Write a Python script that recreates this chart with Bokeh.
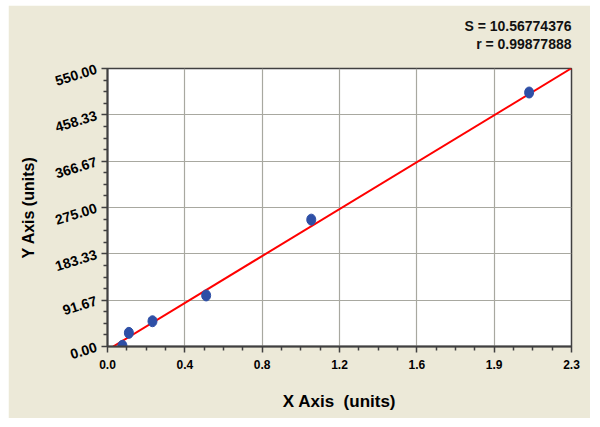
import numpy as np
from bokeh.plotting import figure
from bokeh.models import FixedTicker, Range1d, Title
from bokeh.embed import file_html
from bokeh.resources import INLINE

# data
x_pts = [0.074, 0.106, 0.223, 0.489, 1.01, 2.09]
y_pts = [1.5, 27.0, 50.0, 101.0, 251.0, 502.5]
fit_slope = 242.3
fit_intercept = -6.8
fit_x = [0.028, 2.3]

x_ticks = [0.0, 2.3 / 6, 2 * 2.3 / 6, 3 * 2.3 / 6, 4 * 2.3 / 6, 5 * 2.3 / 6, 2.3]
x_labels = ["0.0", "0.4", "0.8", "1.2", "1.6", "1.9", "2.3"]
y_ticks = [0.0, 550 / 6, 2 * 550 / 6, 3 * 550 / 6, 4 * 550 / 6, 5 * 550 / 6, 550.0]
y_labels = ["0.00", "91.67", "183.33", "275.00", "366.67", "458.33", "550.00"]
stats = ["S = 10.56774376", "r = 0.99877888"]

FONT = "Liberation Sans"
BG = "#ECE9D8"

p = figure(width=582, height=413, output_backend="svg", toolbar_location=None,
           x_range=Range1d(0, 2.3), y_range=Range1d(0, 550),
           min_border_left=99, min_border_right=19, min_border_top=63, min_border_bottom=72)
p.margin = (5, 10, 9, 8)
p.background_fill_color = "white"
p.border_fill_color = BG
p.outline_line_color = "#404040"
p.outline_line_width = 1.5

def minors(ticks):
    out = []
    for a, b in zip(ticks[:-1], ticks[1:]):
        for k in (1, 2, 3):
            out.append(a + (b - a) * k / 4)
    return out

p.xaxis.ticker = FixedTicker(ticks=x_ticks, minor_ticks=minors(x_ticks))
p.yaxis.ticker = FixedTicker(ticks=y_ticks, minor_ticks=minors(y_ticks))
p.xaxis.major_label_overrides = {t: l for t, l in zip(x_ticks, x_labels)}
p.yaxis.major_label_overrides = {t: l for t, l in zip(y_ticks, y_labels)}

for ax in (p.xaxis, p.yaxis):
    ax.axis_line_color = "#404040"
    ax.axis_line_width = 2
    ax.major_tick_line_color = "#404040"
    ax.minor_tick_line_color = "#404040"
    ax.major_tick_line_width = 1.5
    ax.minor_tick_line_width = 1.5
    ax.major_tick_out = 6
    ax.major_tick_in = 0
    ax.minor_tick_out = 4
    ax.minor_tick_in = 0
    ax.major_label_text_font = FONT
    ax.major_label_text_font_style = "bold"
    ax.major_label_text_color = "black"
    ax.axis_label_text_font = FONT
    ax.axis_label_text_font_style = "bold"
    ax.axis_label_text_color = "black"

p.xaxis.major_label_text_font_size = "12px"
p.xaxis.major_label_standoff = 7
p.yaxis.major_label_text_font_size = "14px"
p.yaxis.major_label_orientation = 0.3
p.xaxis.axis_label = "X Axis\u00a0 (units)"
p.yaxis.axis_label = "Y Axis (units)"
p.xaxis.axis_label_text_font_size = "17px"
p.yaxis.axis_label_text_font_size = "16px"
p.xaxis.axis_label_standoff = 20
p.yaxis.axis_label_standoff = 13

p.xgrid.grid_line_color = "#A8A8A0"
p.ygrid.grid_line_color = "#A8A8A0"
p.xgrid.grid_line_width = 1.2
p.ygrid.grid_line_width = 1.2

fx = np.array(fit_x)
p.line(fx, fit_slope * fx + fit_intercept, line_color="#FF0000", line_width=2)
p.ellipse(x_pts, y_pts, width=9, height=11, width_units="screen", height_units="screen",
          fill_color="#2E4FA6", line_color="#2E4FA6")

p.add_layout(Title(text=" ", text_font=FONT, text_font_size="14px", standoff=-1), "above")
for s in reversed(stats):
    p.add_layout(Title(text=s, align="right", text_font=FONT, text_font_style="bold",
                       text_font_size="14px", text_color="#111111", standoff=0), "above")

open("out.html", "w").write(file_html(p, INLINE))
